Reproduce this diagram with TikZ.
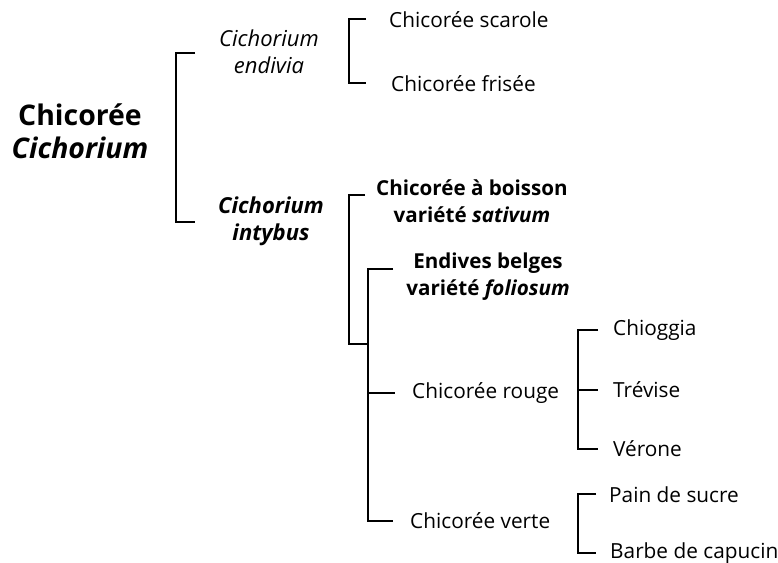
\documentclass[tikz,border=0pt]{standalone}
\usepackage{fontspec}
\setmainfont{Open Sans}
\begin{document}
\begin{tikzpicture}[x=1pt,y=-1pt,
  lbl/.style={inner sep=0pt, font=\fontsize{20.8}{27}\selectfont, align=center},
  lblb/.style={lbl, font=\fontsize{20.6}{27}\selectfont\bfseries},
  spc/.style={inner sep=0pt, font=\fontsize{22}{27}\selectfont, align=center},
  ttl/.style={inner sep=0pt, font=\fontsize{28.4}{33}\selectfont\bfseries, align=center},
  brk/.style={line width=2.6pt, line cap=butt, line join=miter}]
\useasboundingbox (0,0) rectangle (778,562);
\fill[white] (0,0) rectangle (778,562);
% texts
\node[ttl] (root) at (80,131.5) {Chicorée\\\textit{Cichorium}};
\node[spc] (endivia) at (269,51.5) {\textit{Cichorium}\\\textit{endivia}};
\node[spc, font=\fontsize{22}{27}\selectfont\bfseries] (intybus) at (271,221) {\textit{Cichorium}\\\textit{intybus}};
\node[lbl, anchor=west] (scarole) at (389,20) {Chicorée scarole};
\node[lbl, anchor=west] (frisee) at (391,84) {Chicorée frisée};
\node[lblb] (boisson) at (472,201) {Chicorée à boisson\\variété \textit{sativum}};
\node[lblb] (belges) at (488,276.5) {Endives belges\\variété \textit{foliosum}};
\node[lbl, anchor=west] (rouge) at (412,393) {Chicorée rouge};
\node[lbl, anchor=west] (verte) at (410,521) {Chicorée verte};
\node[lbl, anchor=west] (chioggia) at (613,330) {Chioggia};
\node[lbl, anchor=west] (trevise) at (613,390) {Trévise};
\node[lbl, anchor=west] (verone) at (613,449) {Vérone};
\node[lbl, anchor=west] (pain) at (609,495) {Pain de sucre};
\node[lbl, anchor=west] (barbe) at (610,553) {Barbe de capucin};
% bracket corners
\coordinate (b1t) at (176,53);  \coordinate (b1b) at (176,222);
\coordinate (b2t) at (349,19);  \coordinate (b2b) at (349,83);
\coordinate (b3t) at (349,195); \coordinate (b3b) at (349,344);
\coordinate (b4t) at (368,269); \coordinate (b4b) at (368,521);
\coordinate (b5t) at (578,330); \coordinate (b5b) at (578,449);
\coordinate (b6t) at (578,494); \coordinate (b6b) at (578,553);
% brackets
\draw[brk] (195,53) -- (b1t) -- (b1b) -- (195,222);
\draw[brk] (366,19) -- (b2t) -- (b2b) -- (366,83);
\draw[brk] (365,195) -- (b3t) -- (b3b) -- (b4t |- b3b);
\draw[brk] (393,269) -- (b4t) -- (b4b) -- (393,521);
\draw[brk] (b4t |- rouge) -- (395,393);
\draw[brk] (598,330) -- (b5t) -- (b5b) -- (598,449);
\draw[brk] (b5t |- trevise) -- (598,390);
\draw[brk] (596,494) -- (b6t) -- (b6b) -- (596,553);
\end{tikzpicture}
\end{document}
